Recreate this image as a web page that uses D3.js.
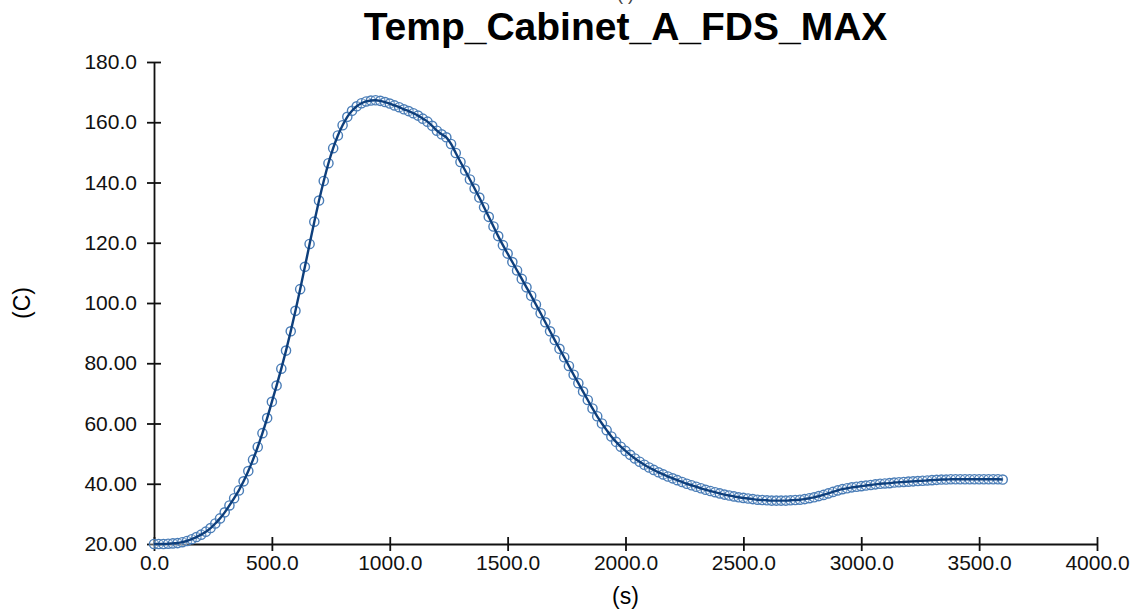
<!DOCTYPE html>
<html>
<head>
<meta charset="utf-8">
<script src="https://cdn.jsdelivr.net/npm/d3@7"></script>
<style>
	body { margin: 0; background: #fff; }
	svg { display: block; font-family: "Liberation Sans", Arial, sans-serif; }
	.axis path, .axis line { stroke: #111; stroke-width: 1.8px; }
	.axis text { fill: #111; font-size: 21px; }
</style>
</head>
<body>
<svg id="chart" width="1141" height="613"></svg>
<script>
// sample time (s), one reading every 20 s
const time_start = 0;
const time_step = 20;

// temperature (C)
const temp_values = [
	20.0, 20.0, 20.0, 20.1, 20.2, 20.3, 20.6, 21.0, 21.6, 22.3,
	23.1, 24.1, 25.3, 26.8, 28.5, 30.5, 32.8, 35.2, 37.8, 40.8,
	44.2, 48.0, 52.2, 56.8, 61.8, 67.2, 72.6, 78.2, 84.2, 90.6,
	97.4, 104.6, 112.0, 119.6, 127.0, 134.0, 140.5, 146.4, 151.4, 155.6,
	159.0, 161.8, 163.8, 165.3, 166.3, 166.9, 167.2, 167.3, 167.1, 166.7,
	166.2, 165.6, 165.0, 164.3, 163.7, 163.0, 162.2, 161.2, 160.2, 158.8,
	157.2, 156.0, 155.0, 152.8, 149.8, 146.8, 144.0, 141.0, 138.0, 135.0,
	131.8, 128.6, 125.4, 122.2, 119.2, 116.4, 113.6, 110.8, 108.0, 105.2,
	102.4, 99.5, 96.6, 93.6, 90.6, 87.7, 84.8, 82.0, 79.1, 76.2,
	73.4, 70.6, 67.8, 65.0, 62.4, 60.0, 57.8, 55.7, 53.9, 52.3,
	50.9, 49.6, 48.4, 47.3, 46.3, 45.4, 44.6, 43.8, 43.1, 42.4,
	41.8, 41.2, 40.6, 40.0, 39.5, 39.0, 38.5, 38.0, 37.6, 37.2,
	36.8, 36.4, 36.1, 35.8, 35.5, 35.3, 35.1, 34.9, 34.7, 34.6,
	34.5, 34.4, 34.4, 34.4, 34.4, 34.5, 34.6, 34.7, 34.9, 35.2,
	35.5, 35.9, 36.3, 36.8, 37.3, 37.8, 38.2, 38.5, 38.8, 39.0,
	39.2, 39.4, 39.6, 39.8, 40.0, 40.1, 40.2, 40.4, 40.5, 40.6,
	40.7, 40.8, 40.9, 41.0, 41.1, 41.2, 41.3, 41.4, 41.4, 41.5,
	41.5, 41.5, 41.5, 41.5, 41.5, 41.5, 41.5, 41.5, 41.5, 41.5,
	41.4
];

const x_ticks = [0, 500, 1000, 1500, 2000, 2500, 3000, 3500, 4000];
const y_ticks = [20, 40, 60, 80, 100, 120, 140, 160, 180];

const chart_title = "Temp_Cabinet_A_FDS_MAX";
const x_label = "(s)";
const y_label = "(C)";

const svg = d3.select("#chart");
const margin = {left: 154, right: 44, top: 62, bottom: 69};
const width = 1141 - margin.left - margin.right;
const height = 613 - margin.top - margin.bottom;

const data = temp_values.map((v, i) => ({t: time_start + i * time_step, v: v}));

const x = d3.scaleLinear().domain([0, 4000]).range([0, width]);
const y = d3.scaleLinear().domain([20, 180]).range([height, 0]);

const g = svg.append("g")
	.attr("transform", "translate(" + margin.left + "," + margin.top + ")");

// ticks cross the axis line on both sides
const x_axis = d3.axisBottom(x)
	.tickValues(x_ticks)
	.tickFormat(d3.format(".1f"))
	.tickSizeInner(7)
	.tickSizeOuter(0)
	.tickPadding(4);

const y_axis = d3.axisLeft(y)
	.tickValues(y_ticks)
	.tickFormat(d => d >= 100 ? d3.format(".1f")(d) : d3.format(".2f")(d))
	.tickSizeInner(7)
	.tickSizeOuter(0)
	.tickPadding(10);

const gx = g.append("g")
	.attr("class", "axis")
	.attr("transform", "translate(0," + height + ")")
	.call(x_axis);
gx.selectAll(".tick line").attr("y1", -7);

const gy = g.append("g")
	.attr("class", "axis")
	.call(y_axis);
gy.selectAll(".tick line").attr("x1", 7);

// markers first, the line goes on top
g.append("g")
	.selectAll("circle")
	.data(data)
	.enter()
	.append("circle")
	.attr("cx", d => x(d.t))
	.attr("cy", d => y(d.v))
	.attr("r", 4.6)
	.style("fill", "rgba(255,255,255,0.3)")
	.style("stroke", "#4a7db7")
	.style("stroke-width", 1.4);

const line = d3.line()
	.x(d => x(d.t))
	.y(d => y(d.v))
	.curve(d3.curveMonotoneX);

g.append("path")
	.datum(data)
	.attr("d", line)
	.style("fill", "none")
	.style("stroke", "#0e3f7c")
	.style("stroke-width", 2.4);

// titles
svg.append("text")
	.attr("x", margin.left + width / 2)
	.attr("y", 0)
	.attr("text-anchor", "middle")
	.style("font-size", "18px")
	.style("fill", "#444")
	.text("( )");

svg.append("text")
	.attr("x", margin.left + width / 2)
	.attr("y", 40)
	.attr("text-anchor", "middle")
	.style("font-size", "39px")
	.style("font-weight", "bold")
	.text(chart_title);

svg.append("text")
	.attr("x", margin.left + width / 2)
	.attr("y", 604)
	.attr("text-anchor", "middle")
	.style("font-size", "23px")
	.text(x_label);

svg.append("text")
	.attr("transform", "translate(30," + (margin.top + height / 2) + ") rotate(-90)")
	.attr("text-anchor", "middle")
	.style("font-size", "23px")
	.text(y_label);
</script>
</body>
</html>
